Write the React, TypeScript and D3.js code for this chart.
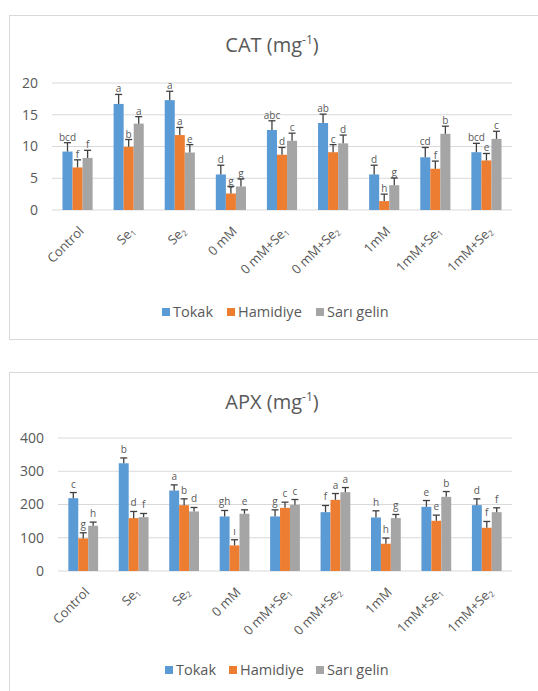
import * as d3 from 'd3';

const categories = ["Control", "Se₁", "Se₂", "0 mM", "0 mM+Se₁", "0 mM+Se₂", "1mM", "1mM+Se₁", "1mM+Se₂"];
const seriesNames = ["Tokak", "Hamidiye", "Sarı gelin"];
const seriesColors = ["#5B9BD5", "#ED7D31", "#A5A5A5"];

// CAT
const catTokak = [9.2, 16.7, 17.3, 5.6, 12.6, 13.7, 5.6, 8.3, 9.1];
const catHamidiye = [6.7, 9.95, 11.8, 2.6, 8.7, 9.1, 1.4, 6.5, 7.8];
const catSari = [8.2, 13.6, 9.05, 3.7, 10.9, 10.5, 3.9, 12.0, 11.2];
const catTokakErr = [1.4, 1.5, 1.4, 1.45, 1.45, 1.4, 1.45, 1.55, 1.4];
const catHamidiyeErr = [1.2, 1.15, 1.2, 1.1, 1.15, 1.2, 1.1, 1.2, 1.1];
const catSariErr = [1.2, 1.1, 1.25, 1.2, 1.2, 1.3, 1.15, 1.2, 1.2];
const catTokakLetters = ["bcd", "a", "a", "d", "abc", "ab", "d", "cd", "bcd"];
const catHamidiyeLetters = ["f", "b", "a", "g", "d", "c", "h", "f", "e"];
const catSariLetters = ["f", "a", "e", "g", "c", "d", "g", "b", "c"];
const catTicks = [0, 5, 10, 15, 20];

// APX
const apxTokak = [219, 324, 242, 164, 164, 177, 161, 193, 198];
const apxHamidiye = [98, 159, 198, 77, 190, 214, 82, 151, 130];
const apxSari = [136, 162, 179, 172, 199, 237, 159, 223, 177];
const apxTokakErr = [17, 16, 17, 18, 20, 20, 20, 19, 19];
const apxHamidiyeErr = [17, 20, 19, 17, 17, 19, 17, 17, 19];
const apxSariErr = [11, 11, 12, 12, 16, 14, 11, 16, 13];
const apxTokakLetters = ["c", "b", "a", "gh", "g", "f", "h", "e", "d"];
const apxHamidiyeLetters = ["g", "d", "b", "ı", "c", "a", "h", "e", "f"];
const apxSariLetters = ["h", "f", "d", "e", "c", "a", "g", "b", "f"];
const apxTicks = [0, 100, 200, 300, 400];

const font = "'Open Sans', 'Liberation Sans', sans-serif";
const textColor = "#595959";

// render the subscript digits as small shifted tspans
function labelParts(label: string) {
  const subs: Record<string, string> = { "₁": "1", "₂": "2" };
  return label.split("").reduce<{ t: string; sub: boolean }[]>((acc, ch) => {
    const sub = ch in subs;
    const t = sub ? subs[ch] : ch;
    const last = acc[acc.length - 1];
    if (last && last.sub === sub) last.t += t;
    else acc.push({ t, sub });
    return acc;
  }, []);
}

interface ChartProps {
  title: string;
  values: number[][];
  errors: number[][];
  letters: string[][];
  ticks: number[];
  top: number;
  frameH: number;
  left: number;
  yMaxPx: number;
  yZeroPx: number;
  titleY: number;
  legendY: number;
  legendX: number[];
  letterGap: number;
}

function Chart({ title, values, errors, letters, ticks, top, frameH, left, yMaxPx, yZeroPx, titleY, legendY, legendX, letterGap }: ChartProps) {
  const right = 512;
  const x0 = d3.scaleBand<string>()
    .domain(categories)
    .range([left, right])
    .paddingInner(0.41)
    .paddingOuter(0.205);
  const x1 = d3.scaleBand<number>()
    .domain(d3.range(seriesNames.length))
    .range([0, x0.bandwidth()]);
  const y = d3.scaleLinear()
    .domain([0, d3.max(ticks)!])
    .range([yZeroPx, yMaxPx]);

  return (
    <g>
      <rect x={9.5} y={top + 0.5} width={560} height={frameH} fill="white" stroke="#d9d9d9" />
      <text x={272} y={titleY} textAnchor="middle" fontFamily={font} fontSize={20} fill={textColor}>
        {title} (mg<tspan dy={-8} fontSize={12}>-1</tspan><tspan dy={8}>)</tspan>
      </text>
      {ticks.map(t => (
        <g key={t}>
          <line x1={left} x2={right} y1={y(t)} y2={y(t)} stroke="#d9d9d9" strokeWidth={1} />
          <text x={left - 14} y={y(t)} dy="0.35em" textAnchor="end" fontFamily={font} fontSize={14} fill={textColor}>{t}</text>
        </g>
      ))}
      {categories.map((c, i) => (
        <g key={c}>
          {seriesNames.map((s, j) => {
            const bx = x0(c)! + x1(j)!;
            const w = x1.bandwidth();
            const v = values[j][i];
            const e = errors[j][i];
            const cx = bx + w / 2;
            return (
              <g key={s}>
                <rect x={bx} y={y(v)} width={w} height={y(0) - y(v)} fill={seriesColors[j]} />
                <line x1={cx} x2={cx} y1={y(v)} y2={y(v + e)} stroke="#404040" strokeWidth={1.3} />
                <line x1={cx - 3.5} x2={cx + 3.5} y1={y(v + e)} y2={y(v + e)} stroke="#404040" strokeWidth={1.3} />
                <text x={cx} y={y(v + e) - letterGap} textAnchor="middle" fontFamily={font} fontSize={10} fill={textColor}>{letters[j][i]}</text>
              </g>
            );
          })}
          <text
            transform={`translate(${x0(c)! + x0.bandwidth() / 2 + 7},${yZeroPx + 22}) rotate(-45)`}
            textAnchor="end" fontFamily={font} fontSize={13} fill={textColor}
          >
            {labelParts(c).map((p, k) => p.sub
              ? <tspan key={k} fontSize={8} dy={2}>{p.t}</tspan>
              : <tspan key={k} dy={k > 0 ? -2 : 0}>{p.t}</tspan>)}
          </text>
        </g>
      ))}
      {seriesNames.map((s, j) => (
        <g key={s}>
          <rect x={legendX[j]} y={legendY - 4} width={8} height={8} fill={seriesColors[j]} />
          <text x={legendX[j] + 11} y={legendY} dy="0.35em" fontFamily={font} fontSize={14.5} fill={textColor}>{s}</text>
        </g>
      ))}
    </g>
  );
}

export default function App() {
  return (
    <svg width={538} height={691} style={{ position: 'absolute', left: 0, top: 0 }}>
      <rect width={538} height={691} fill="white" />
      <Chart
        title="CAT"
        values={[catTokak, catHamidiye, catSari]}
        errors={[catTokakErr, catHamidiyeErr, catSariErr]}
        letters={[catTokakLetters, catHamidiyeLetters, catSariLetters]}
        ticks={catTicks}
        top={15}
        frameH={324}
        left={52}
        yMaxPx={83}
        yZeroPx={210}
        titleY={52}
        legendY={312}
        legendX={[162, 227, 316]}
        letterGap={2}
      />
      <Chart
        title="APX"
        values={[apxTokak, apxHamidiye, apxSari]}
        errors={[apxTokakErr, apxHamidiyeErr, apxSariErr]}
        letters={[apxTokakLetters, apxHamidiyeLetters, apxSariLetters]}
        ticks={apxTicks}
        top={372}
        frameH={340}
        left={58}
        yMaxPx={438}
        yZeroPx={571}
        titleY={409}
        legendY={670}
        legendX={[165, 229, 316]}
        letterGap={5}
      />
    </svg>
  );
}
